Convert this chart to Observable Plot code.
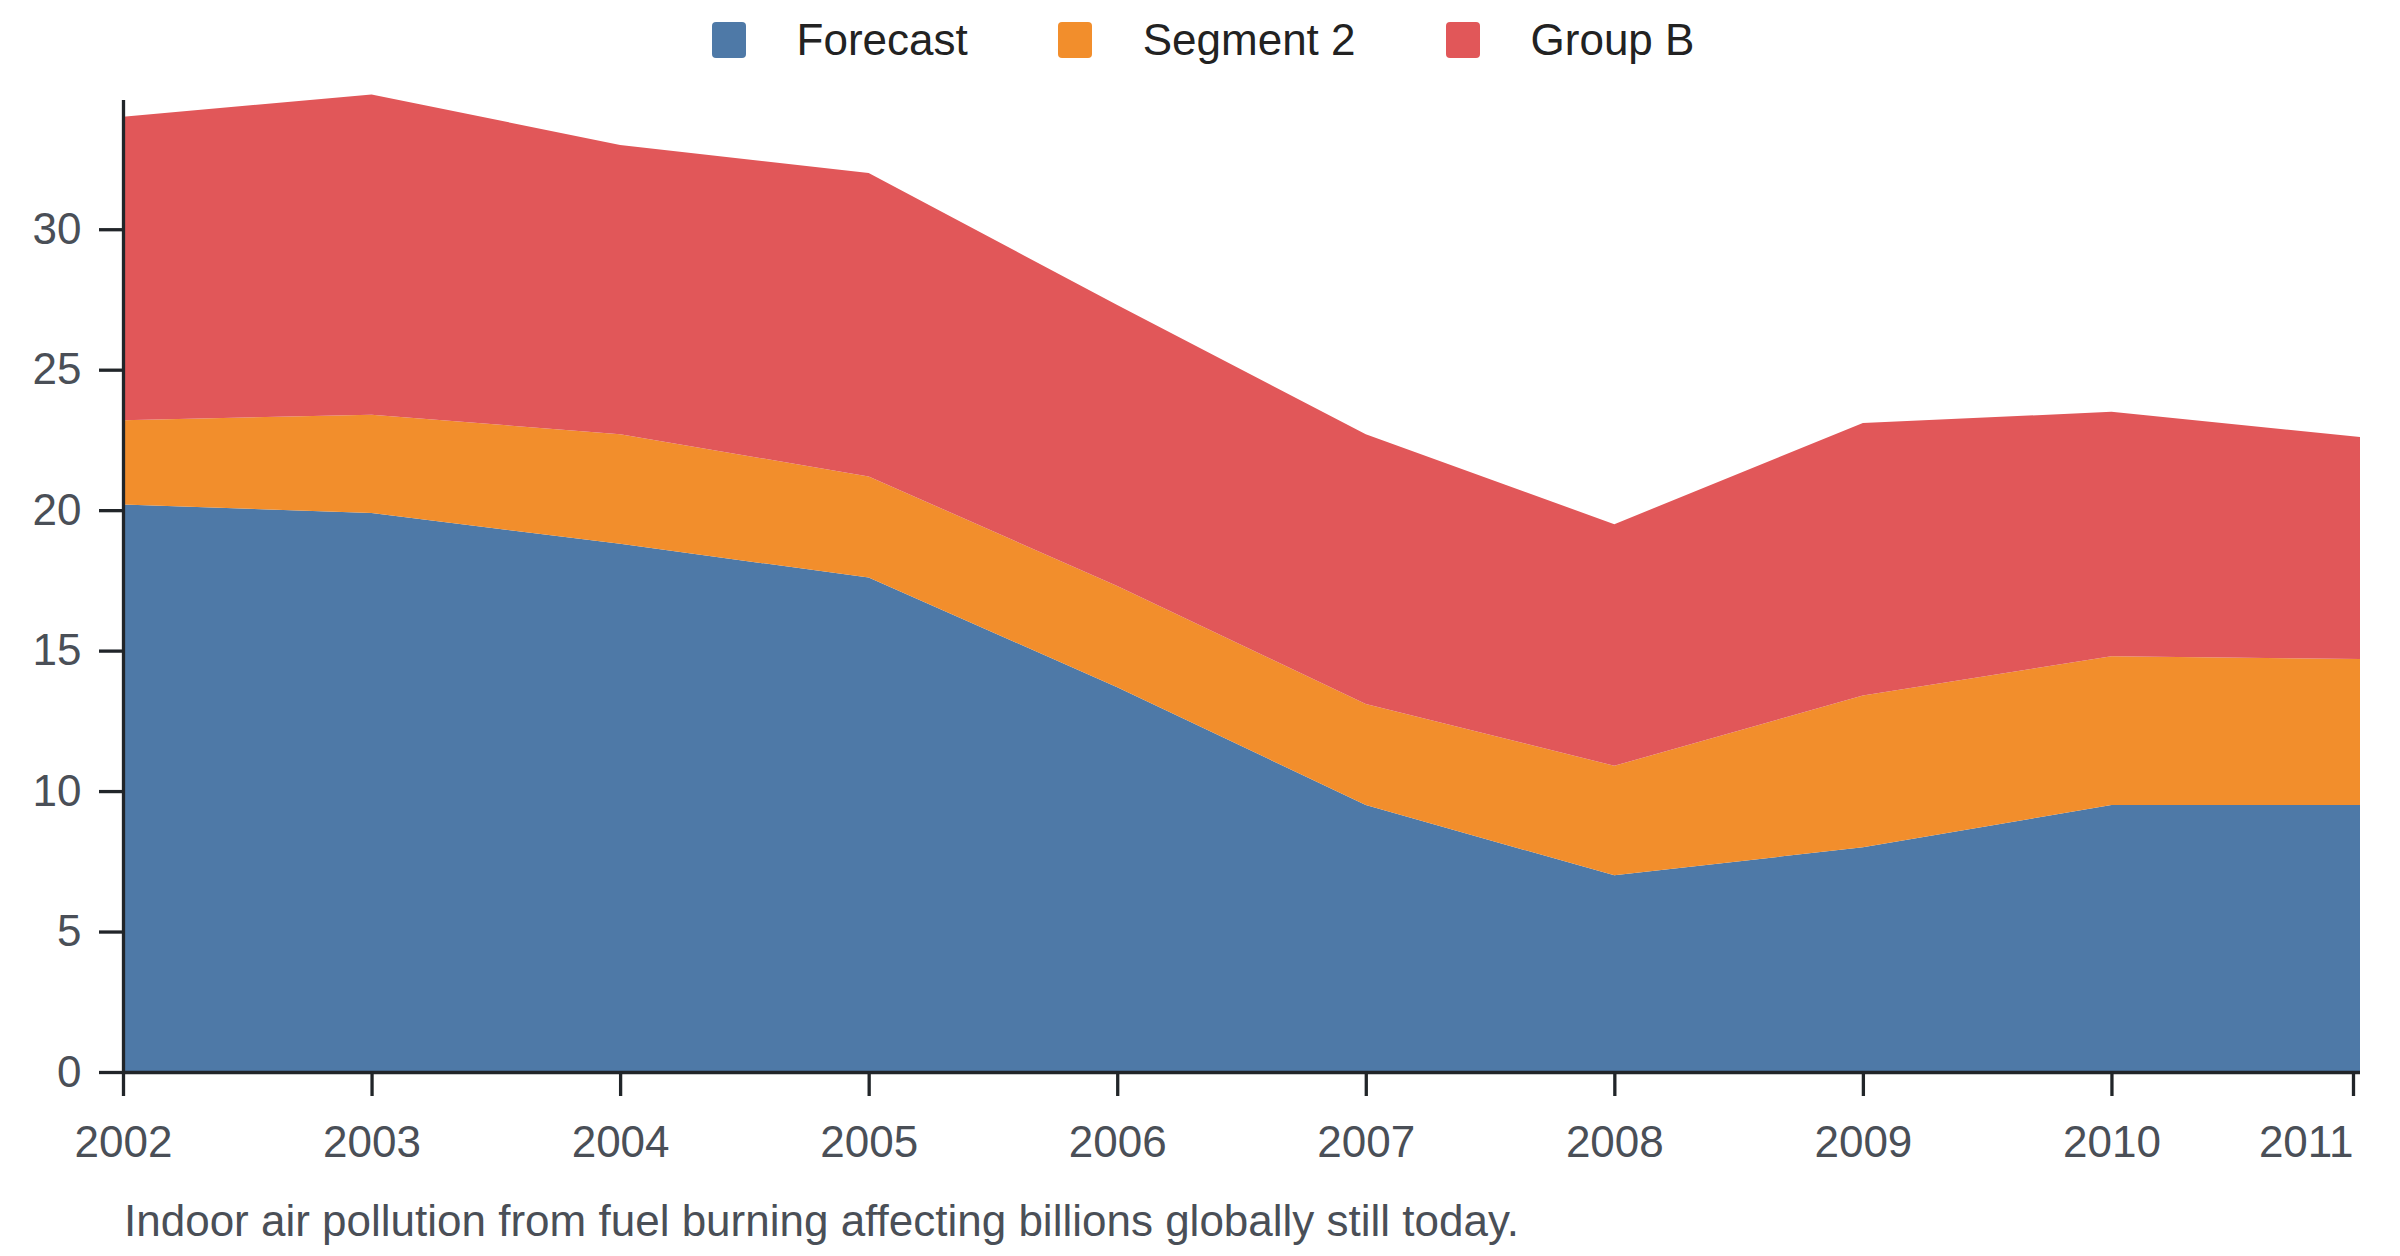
<!DOCTYPE html>
<html>
<head>
<meta charset="utf-8">
<script src="https://cdn.jsdelivr.net/npm/d3@7"></script>
<script src="https://cdn.jsdelivr.net/npm/@observablehq/plot@0.6"></script>
<style>
  html, body { margin: 0; padding: 0; background: #fff; }
  body { width: 2400px; height: 1256px; overflow: hidden; font-family: "Liberation Sans", Arial, sans-serif; }
  #legend { height: 80px; display: flex; justify-content: center; align-items: center; gap: 90px; padding-left: 6px; box-sizing: border-box; }
  .item { display: flex; align-items: center; font-size: 44px; color: #222; line-height: 1; }
  .sw { width: 34px; height: 36px; border-radius: 4px; margin-right: 51px; }
  #chart svg { display: block; }
  #caption { font-size: 44px; line-height: 1; color: #4a4f57; padding-left: 124px; height: 57px; }
</style>
</head>
<body>
<div id="legend"></div>
<div id="chart"></div>
<div id="caption"></div>
<script>
const years = [2002, 2003, 2004, 2005, 2006, 2007, 2008, 2009, 2010, 2011];
const seriesNames = ["Forecast", "Segment 2", "Group B"];
const seriesColors = ["#4e79a7", "#f28e2c", "#e15759"];
const forecast = [20.2, 19.9, 18.8, 17.6, 13.7, 9.5, 7.0, 8.0, 9.5, 9.5];
const segment2 = [3.0, 3.5, 3.9, 3.6, 3.6, 3.6, 3.9, 5.4, 5.3, 5.2];
const groupB = [10.8, 11.4, 10.3, 10.8, 10.0, 9.6, 8.6, 9.7, 8.7, 7.9];
const yTicks = [0, 5, 10, 15, 20, 25, 30];
const captionText = "Indoor air pollution from fuel burning affecting billions globally still today.";

const seriesValues = [forecast, segment2, groupB];
const data = [];
seriesNames.forEach((name, i) => {
  years.forEach((yr, j) => data.push({year: yr, value: seriesValues[i][j], series: name}));
});

// Legend
const legend = document.getElementById("legend");
seriesNames.forEach((name, i) => {
  const it = document.createElement("div");
  it.className = "item";
  const sw = document.createElement("div");
  sw.className = "sw";
  sw.style.background = seriesColors[i];
  const tx = document.createElement("span");
  tx.textContent = name;
  it.appendChild(sw);
  it.appendChild(tx);
  legend.appendChild(it);
});

const axisColor = "#212529";
const labelColor = "#4a4f57";

const chart = Plot.plot({
  width: 2400,
  height: 1119,
  marginTop: 20,
  marginBottom: 127,
  marginLeft: 123,
  marginRight: 40,
  style: {fontFamily: "'Liberation Sans', Arial, sans-serif", fontSize: "44px", background: "#fff"},
  x: {domain: [2002, 2011], label: null},
  y: {domain: [0, 34.6], label: null},
  color: {domain: seriesNames, range: seriesColors},
  marks: [
    Plot.areaY(data, {x: "year", y: "value", fill: "series", order: seriesNames}),
    Plot.ruleY([0], {stroke: axisColor, strokeWidth: 3.3}),
    Plot.ruleX([2002], {stroke: axisColor, strokeWidth: 3.3}),
    Plot.axisY({ticks: yTicks, tickSize: 24, tickPadding: 18, stroke: axisColor, strokeWidth: 3.3, fill: labelColor, label: null, fontSize: 44}),
    Plot.axisX({ticks: years.slice(0, -1), tickFormat: d => String(d), tickSize: 24, tickPadding: 29, stroke: axisColor, strokeWidth: 3.3, fill: labelColor, label: null, fontSize: 44}),
    Plot.axisX({ticks: years.slice(-1), tickFormat: d => String(d), tickSize: 24, tickPadding: 29, stroke: axisColor, strokeWidth: 3.3, fill: labelColor, label: null, fontSize: 44, textAnchor: "end", dx: -7})
  ]
});
document.getElementById("chart").appendChild(chart);
document.getElementById("caption").textContent = captionText;
</script>
</body>
</html>
